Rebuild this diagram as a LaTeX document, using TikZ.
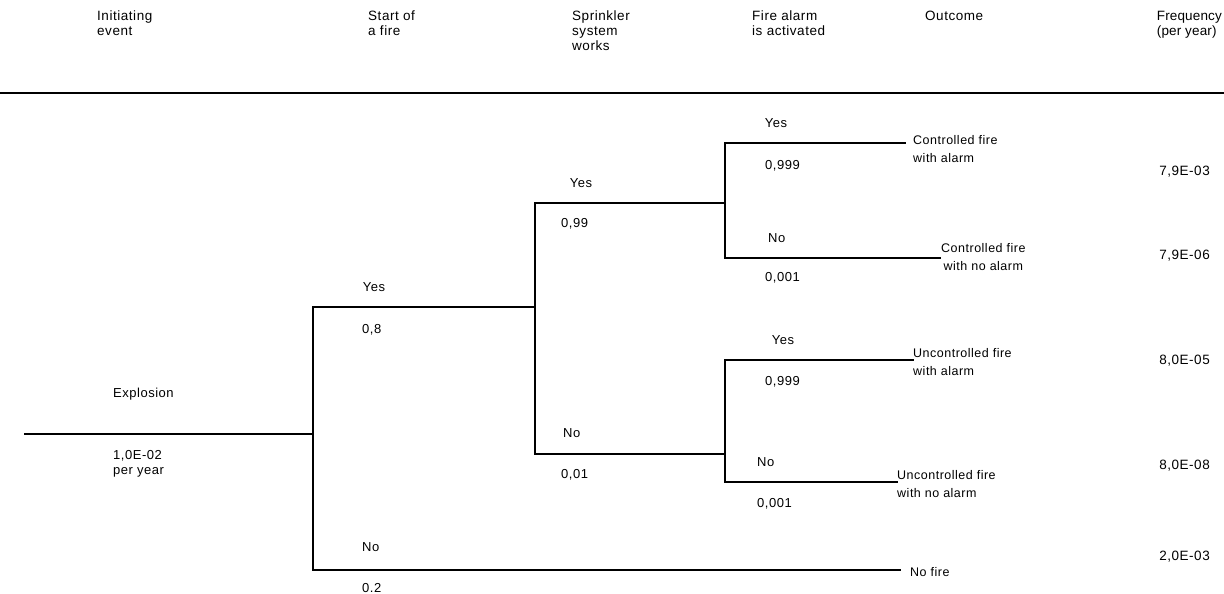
\documentclass[tikz,border=0pt]{standalone}
\usepackage{fontspec}
\setmainfont{Liberation Sans}[LetterSpace=4]
\newfontfamily\tightfont{Liberation Sans}[LetterSpace=1]
\begin{document}
\begin{tikzpicture}[x=1pt,y=-1pt,
  txt/.style={inner sep=0pt,font=\fontsize{13.5}{15}\selectfont,align=left},
  lbl/.style={inner sep=0pt,font=\fontsize{13}{15}\selectfont},
  outc/.style={inner sep=0pt,font=\fontsize{12.5}{18}\selectfont},
  branch/.style={line width=2.6pt,line cap=rect},
  rule/.style={line width=1.8pt}]
\useasboundingbox (0,0) rectangle (1224,594);
% header
\node[txt,anchor=north west] (h1) at (97,11) {Initiating\\event};
\node[txt,anchor=north west] (h2) at (368,11) {Start of\\a fire};
\node[txt,anchor=north west] (h3) at (572,11) {Sprinkler\\system\\works};
\node[txt,anchor=north west] (h4) at (752,11) {Fire alarm\\is activated};
\node[txt,anchor=north west] (h5) at (925,11) {Outcome};
\node[txt,anchor=north east,font=\tightfont\fontsize{13.5}{15}\selectfont] (h6) at (1222,11) {Frequency\\(per year)};
\coordinate (rl) at (0,93);
\coordinate (rr) at (1224,93);
\draw[rule] (rl) -- (rr);
% tree coordinates
\coordinate (s) at (25,434);
\coordinate (n1) at (313,434);
\coordinate (n1y) at (313,307);
\coordinate (n1n) at (313,570);
\coordinate (n2) at (535,307);
\coordinate (n2y) at (535,203);
\coordinate (n2n) at (535,454);
\coordinate (n3) at (725,203);
\coordinate (n3y) at (725,143);
\coordinate (n3n) at (725,258);
\coordinate (n4) at (725,454);
\coordinate (n4y) at (725,360);
\coordinate (n4n) at (725,482);
\coordinate (e1) at (905,143);
\coordinate (e2) at (940,258);
\coordinate (e3) at (913,360);
\coordinate (e4) at (897,482);
\coordinate (e5) at (900,570);
\draw[branch] (s) -- (n1);
\draw[branch] (n1y) -- (n1n);
\draw[branch] (n1y) -- (n2);
\draw[branch] (n1n) -- (e5);
\draw[branch] (n2y) -- (n2n);
\draw[branch] (n2y) -- (n3);
\draw[branch] (n2n) -- (n4);
\draw[branch] (n3y) -- (n3n);
\draw[branch] (n3y) -- (e1);
\draw[branch] (n3n) -- (e2);
\draw[branch] (n4y) -- (n4n);
\draw[branch] (n4y) -- (e3);
\draw[branch] (n4n) -- (e4);
% initiating event labels
\node[lbl,anchor=west] (ex) at (113,394) {Explosion};
\node[lbl,anchor=north west,align=left] (exf) at (113,450) {1,0E-02\\per year};
% start of fire
\node[lbl] (y1) at (374,287) {Yes};
\node[lbl,anchor=west] (p1) at (362,330) {0,8};
\node[lbl,anchor=west] (no1) at (362,547) {No};
\node[lbl,anchor=west] (q1) at (362,588) {0.2};
% sprinkler
\node[lbl] (y2) at (581,183) {Yes};
\node[lbl,anchor=west] (p2) at (561,224) {0,99};
\node[lbl,anchor=west] (no2) at (563,433) {No};
\node[lbl,anchor=west] (q2) at (561,475) {0,01};
% alarm (upper)
\node[lbl] (y3) at (776,123) {Yes};
\node[lbl,anchor=west] (p3) at (765,166) {0,999};
\node[lbl,anchor=west] (no3) at (768,238) {No};
\node[lbl,anchor=west] (q3) at (765,278) {0,001};
% alarm (lower)
\node[lbl] (y4) at (783,340) {Yes};
\node[lbl,anchor=west] (p4) at (765,382) {0,999};
\node[lbl,anchor=west] (no4) at (757,462) {No};
\node[lbl,anchor=west] (q4) at (757,504) {0,001};
% outcomes
\node[outc,anchor=west,align=left] (oc1) at (913,149) {Controlled fire\\with alarm};
\node[outc,anchor=west,align=center] (oc2) at (941,257) {Controlled fire\\with no alarm};
\node[outc,anchor=west,align=left] (oc3) at (913,362) {Uncontrolled fire\\with alarm};
\node[outc,anchor=west,align=left] (oc4) at (897,484) {Uncontrolled fire\\with no alarm};
\node[outc,anchor=west] (oc5) at (910,572) {No fire};
% frequencies
\node[txt,anchor=east] (f1) at (1210,172) {7,9E-03};
\node[txt,anchor=east] (f2) at (1210,256) {7,9E-06};
\node[txt,anchor=east] (f3) at (1210,361) {8,0E-05};
\node[txt,anchor=east] (f4) at (1210,466) {8,0E-08};
\node[txt,anchor=east] (f5) at (1210,557) {2,0E-03};
\end{tikzpicture}
\end{document}
